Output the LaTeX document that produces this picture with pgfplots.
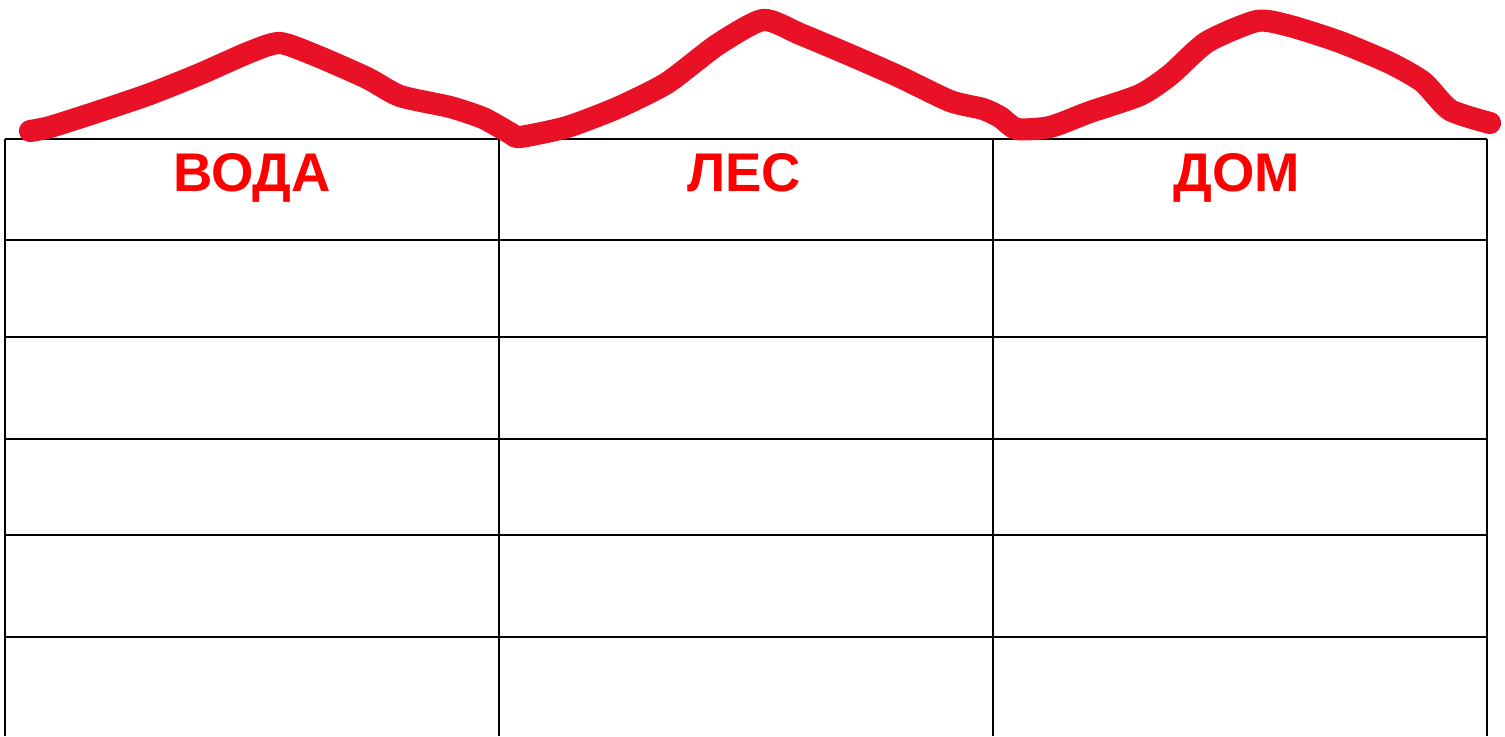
\documentclass[border=0pt]{standalone}
\usepackage{pgfplots}
\pgfplotsset{compat=1.18}
\usepackage{fontspec}
\setmainfont{Liberation Sans}
\definecolor{wavered}{RGB}{232,17,38}
\definecolor{txtred}{RGB}{255,0,0}
\begin{document}
\begin{tikzpicture}
\begin{axis}[
  scale only axis, width=15.05cm, height=7.36cm,
  xmin=0, xmax=1505, ymin=0, ymax=736, y dir=reverse,
  hide axis, clip=true,
]
% table grid
\addplot[black, line width=0.6pt] coordinates {(5,139) (1487,139)};
\addplot[black, line width=0.6pt] coordinates {(5,240) (1487,240)};
\addplot[black, line width=0.6pt] coordinates {(5,337) (1487,337)};
\addplot[black, line width=0.6pt] coordinates {(5,439) (1487,439)};
\addplot[black, line width=0.6pt] coordinates {(5,535) (1487,535)};
\addplot[black, line width=0.6pt] coordinates {(5,637) (1487,637)};
\addplot[black, line width=0.6pt] coordinates {(5,139) (5,736)};
\addplot[black, line width=0.6pt] coordinates {(499,139) (499,736)};
\addplot[black, line width=0.6pt] coordinates {(993,139) (993,736)};
\addplot[black, line width=0.6pt] coordinates {(1487,139) (1487,736)};
% wavy red line
\addplot[wavered, line width=6.3pt, line cap=round, line join=round, smooth, tension=0.4] coordinates {
(30,131) (50,127) (100,111) (150,94) (200,74) (250,52) (280,43) (317,56) (367,78) (400,96) (450,107) (483,118) (510,133) (520,137)
(567,127) (617,108) (667,83) (717,45) (763,20) (800,34) (850,55) (900,77) (950,101) (983,109) (1000,117) (1017,129)
(1050,127) (1090,112) (1140,95) (1170,75) (1207,42) (1257,21) (1290,26) (1340,42) (1390,63) (1423,82) (1450,110) (1490,123)
};
\node[txtred, anchor=base, font=\fontsize{15.5}{18}\selectfont\bfseries] at (axis cs:252,192) {ВОДА};
\node[txtred, anchor=base, font=\fontsize{15.5}{18}\selectfont\bfseries] at (axis cs:744,192) {ЛЕС};
\node[txtred, anchor=base, font=\fontsize{15.5}{18}\selectfont\bfseries] at (axis cs:1237,192) {ДОМ};
\end{axis}
\pgfresetboundingbox
\useasboundingbox (current axis.south west) rectangle (current axis.north east);
\end{tikzpicture}
\end{document}
